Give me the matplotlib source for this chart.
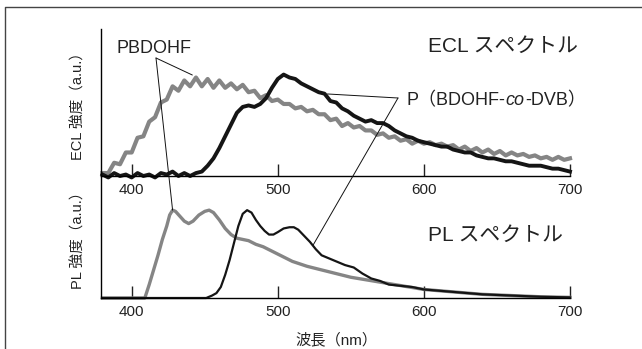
import numpy as np
import matplotlib.pyplot as plt
from matplotlib.patches import ConnectionPatch
from matplotlib.lines import Line2D

plt.rcParams['font.family'] = ['Liberation Sans', 'Noto Sans CJK JP']

# ECL spectra (a.u.), every 4 nm
ecl_nm = np.arange(380, 701, 4)
ecl_pbdohf = [0.02, 0.02, 0.09, 0.08, 0.16, 0.16, 0.26, 0.27, 0.37, 0.40,
              0.50, 0.52, 0.61, 0.58, 0.65, 0.61, 0.67, 0.61, 0.66, 0.60,
              0.65, 0.60, 0.63, 0.59, 0.62, 0.57, 0.58, 0.53, 0.55, 0.51,
              0.52, 0.49, 0.49, 0.46, 0.47, 0.44, 0.45, 0.42, 0.42, 0.38,
              0.39, 0.34, 0.36, 0.33, 0.34, 0.31, 0.31, 0.28, 0.29, 0.26,
              0.27, 0.24, 0.25, 0.22, 0.24, 0.22, 0.23, 0.21, 0.22, 0.20,
              0.21, 0.18, 0.20, 0.17, 0.19, 0.16, 0.18, 0.15, 0.17, 0.14,
              0.16, 0.14, 0.15, 0.13, 0.14, 0.12, 0.13, 0.11, 0.13, 0.11,
              0.12]
ecl_copoly = [0.01, -0.01, 0.02, 0.00, 0.01, -0.01, 0.02, 0.00, 0.01, -0.01,
              0.02, 0.01, 0.03, 0.00, 0.02, 0.00, 0.02, 0.03, 0.07, 0.12,
              0.19, 0.27, 0.35, 0.43, 0.47, 0.48, 0.47, 0.49, 0.53, 0.60,
              0.66, 0.69, 0.67, 0.66, 0.63, 0.61, 0.59, 0.57, 0.56, 0.51,
              0.50, 0.46, 0.44, 0.41, 0.39, 0.37, 0.38, 0.36, 0.36, 0.34,
              0.31, 0.29, 0.27, 0.26, 0.24, 0.23, 0.22, 0.21, 0.20, 0.20,
              0.18, 0.17, 0.16, 0.16, 0.14, 0.13, 0.12, 0.12, 0.11, 0.10,
              0.10, 0.09, 0.08, 0.07, 0.07, 0.07, 0.06, 0.05, 0.05, 0.04,
              0.03]

# PL spectra (a.u.)
pl_nm_a = [380, 405, 409, 412, 415, 418, 421, 424, 426, 428, 430, 433, 436,
           439, 442, 446, 450, 453, 456, 460, 464, 468, 472, 476, 480, 485,
           490, 495, 500, 505, 510, 515, 520, 530, 540, 550, 560, 570, 580,
           590, 600, 620, 640, 660, 680, 700]
pl_pbdohf = [0.0, 0.0, 0.0, 0.11, 0.23, 0.35, 0.48, 0.59, 0.68, 0.72, 0.71,
             0.67, 0.63, 0.61, 0.63, 0.68, 0.71, 0.72, 0.70, 0.64, 0.57, 0.52,
             0.49, 0.48, 0.47, 0.44, 0.42, 0.39, 0.36, 0.33, 0.30, 0.28, 0.26,
             0.23, 0.20, 0.17, 0.15, 0.13, 0.11, 0.09, 0.07, 0.05, 0.03, 0.02,
             0.01, 0.005]
pl_nm_b = [380, 451, 455, 458, 461, 464, 467, 470, 473, 476, 479, 482, 485,
           488, 491, 494, 497, 500, 504, 508, 511, 514, 518, 522, 526, 530,
           534, 540, 546, 552, 558, 564, 570, 576, 584, 592, 600, 620, 640,
           660, 680, 700]
pl_copoly = [0.0, 0.0, 0.02, 0.04, 0.09, 0.19, 0.31, 0.45, 0.59, 0.69, 0.72,
             0.70, 0.64, 0.59, 0.55, 0.52, 0.52, 0.54, 0.57, 0.58, 0.58, 0.56,
             0.51, 0.46, 0.40, 0.35, 0.33, 0.30, 0.27, 0.25, 0.20, 0.16, 0.14,
             0.11, 0.10, 0.09, 0.07, 0.05, 0.03, 0.02, 0.01, 0.005]

xticks = [400, 500, 600, 700]
gray = '#858585'
black = '#151515'

fig = plt.figure(figsize=(6.42, 3.49), dpi=100)
ax1 = fig.add_axes([101/642, 173/349, 469/642, 147/349])
ax2 = fig.add_axes([101/642, 51/349, 469/642, 122/349])

ax1.plot(ecl_nm, ecl_pbdohf, color=gray, lw=3.0, clip_on=False)
ax1.plot(ecl_nm, ecl_copoly, color=black, lw=2.8, clip_on=False)
ax2.plot(pl_nm_a, pl_pbdohf, color=gray, lw=2.4, clip_on=False)
ax2.plot(pl_nm_b, pl_copoly, color=black, lw=1.6, clip_on=False)

for ax in (ax1, ax2):
    ax.set_xlim(379, 700)
    ax.set_ylim(0, 1)
    ax.set_xticks(xticks)
    ax.set_yticks([])
    ax.spines['top'].set_visible(False)
    ax.spines['right'].set_visible(False)
    ax.spines['left'].set_linewidth(1.0)
    ax.spines['bottom'].set_linewidth(1.0)
    ax.tick_params(axis='x', direction='in', length=9, width=1.0,
                   labelsize=11, pad=5, colors='#222222')
    ax.patch.set_alpha(0)

fig.text(78/642, 1 - 103/349, 'ECL 強度（a.u.）', rotation=90,
         ha='center', va='center', fontsize=10.5, color='#222222')
fig.text(78/642, 1 - 237/349, 'PL 強度（a.u.）', rotation=90,
         ha='center', va='center', fontsize=10.5, color='#222222')
fig.text(336/642, 1 - 340/349, '波長（nm）', ha='center', va='center',
         fontsize=11, color='#222222')

fig.text(428/642, 1 - 51.7/349, 'ECL スペクトル', ha='left', va='baseline',
         fontsize=15, color='#222222')
fig.text(428/642, 1 - 241/349, 'PL スペクトル', ha='left', va='baseline',
         fontsize=15, color='#222222')
fig.text(117/642, 1 - 52.7/349, 'PBDOHF', ha='left', va='baseline',
         fontsize=13, color='#222222')

# P(BDOHF-co-DVB) with italic "co"
t1 = fig.text(407/642, 1 - 105.5/349, 'P（BDOHF-', ha='left', va='baseline',
              fontsize=13, color='#222222')
fig.canvas.draw()
r = fig.canvas.get_renderer()
x = t1.get_window_extent(r).x1
t2 = fig.text(x/642, 1 - 105.5/349, 'co', ha='left', va='baseline',
              fontsize=13, style='italic', color='#222222')
x = t2.get_window_extent(r).x1
fig.text(x/642, 1 - 105.5/349, '-DVB）', ha='left', va='baseline',
         fontsize=13, color='#222222')

# leader lines
o1 = (156/642, 1 - 58/349)
o2 = (398/642, 1 - 98/349)
leaders = [(o1, ax1, (441.5, 0.687)),
           (o1, ax2, (428, np.interp(428, pl_nm_a, pl_pbdohf))),
           (o2, ax1, (534, 0.558)),
           (o2, ax2, (524, np.interp(524, pl_nm_b, pl_copoly)))]
for o, ax, tgt in leaders:
    fig.add_artist(ConnectionPatch(xyA=o, coordsA=fig.transFigure, xyB=tgt,
                                   coordsB=ax.transData, lw=0.7, color='#111111'))

# outer frame
fig.add_artist(Line2D([5/642, 5/642, 1], [0, 1 - 6.5/349, 1 - 6.5/349],
                      transform=fig.transFigure, color='#444444', lw=1.0))

fig.savefig('out.png', dpi=100)
